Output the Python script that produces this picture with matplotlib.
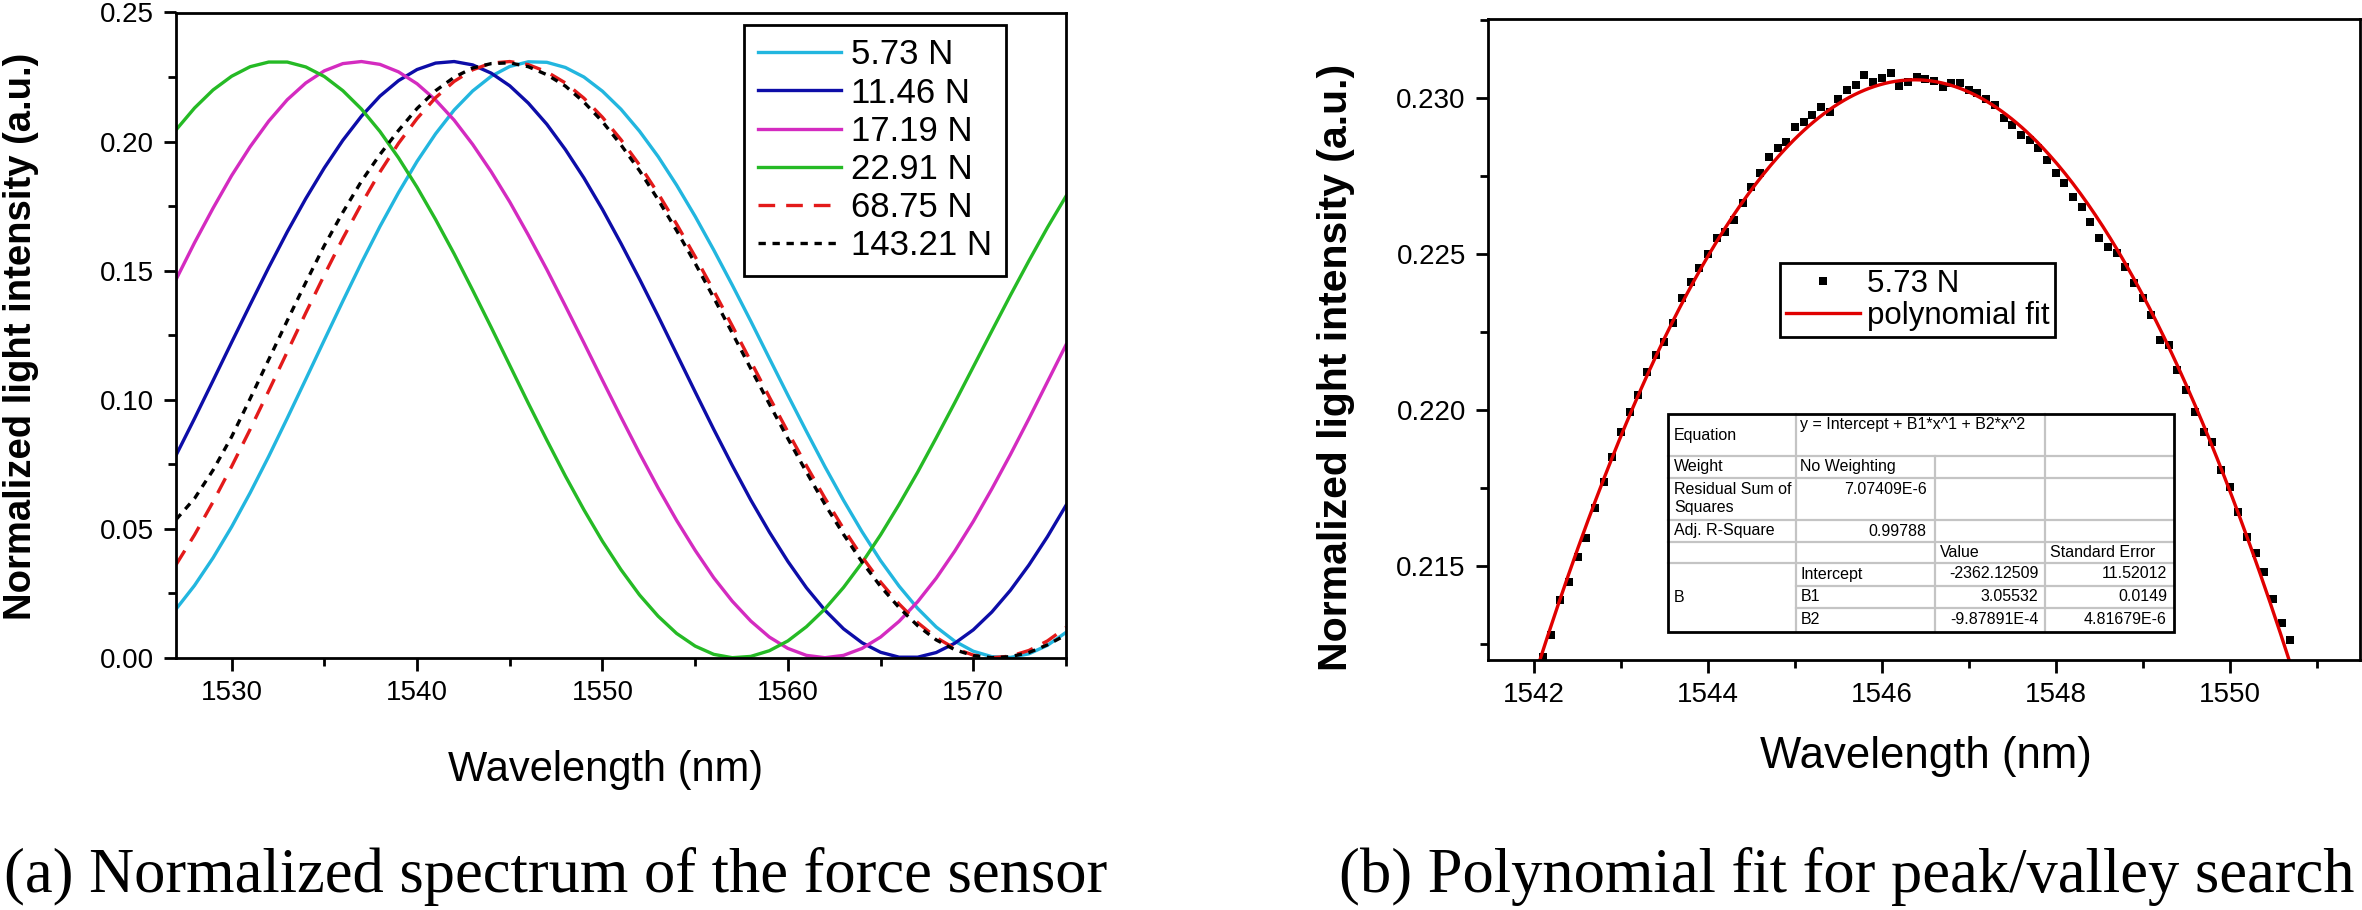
import numpy as np
import matplotlib
matplotlib.use("Agg")
import matplotlib.pyplot as plt
from matplotlib.ticker import MultipleLocator, FormatStrFormatter
from matplotlib.lines import Line2D
from matplotlib.patches import Rectangle

plt.rcParams['font.family'] = ['Liberation Sans', 'DejaVu Sans']

# ---- data, panel (a): normalized spectra, 1 nm steps ----
wavelength_a = np.arange(1527, 1576)  # nm

spec_5_73 = [0.0188, 0.0280, 0.0387, 0.0507, 0.0639, 0.0780, 0.0928, 0.1079, 0.1231, 0.1382,
             0.1530, 0.1671, 0.1802, 0.1923, 0.2030, 0.2122, 0.2196, 0.2253, 0.2291, 0.2309,
             0.2307, 0.2287, 0.2250, 0.2195, 0.2125, 0.2040, 0.1942, 0.1831, 0.1710, 0.1580,
             0.1444, 0.1304, 0.1160, 0.1017, 0.0877, 0.0740, 0.0610, 0.0488, 0.0376, 0.0277,
             0.0191, 0.0119, 0.0064, 0.0025, 0.0004, 0.0001, 0.0015, 0.0048, 0.0098]
spec_11_46 = [0.0784, 0.0927, 0.1074, 0.1222, 0.1368, 0.1512, 0.1650, 0.1779, 0.1898, 0.2005,
              0.2098, 0.2176, 0.2236, 0.2279, 0.2304, 0.2310, 0.2297, 0.2265, 0.2216, 0.2149,
              0.2067, 0.1969, 0.1859, 0.1737, 0.1605, 0.1467, 0.1324, 0.1177, 0.1030, 0.0885,
              0.0745, 0.0611, 0.0487, 0.0373, 0.0271, 0.0184, 0.0112, 0.0058, 0.0021, 0.0002,
              0.0002, 0.0020, 0.0056, 0.0108, 0.0177, 0.0261, 0.0359, 0.0469, 0.0590]
spec_17_19 = [0.1465, 0.1608, 0.1742, 0.1868, 0.1980, 0.2079, 0.2162, 0.2227, 0.2274, 0.2302,
              0.2310, 0.2299, 0.2270, 0.2224, 0.2161, 0.2083, 0.1989, 0.1883, 0.1766, 0.1638,
              0.1504, 0.1363, 0.1220, 0.1075, 0.0932, 0.0792, 0.0658, 0.0532, 0.0416, 0.0310,
              0.0219, 0.0142, 0.0080, 0.0036, 0.0009, 0.0000, 0.0009, 0.0036, 0.0080, 0.0141,
              0.0217, 0.0308, 0.0413, 0.0528, 0.0654, 0.0787, 0.0926, 0.1069, 0.1212]
spec_22_91 = [0.2045, 0.2130, 0.2200, 0.2253, 0.2290, 0.2308, 0.2308, 0.2289, 0.2252, 0.2197,
              0.2126, 0.2039, 0.1937, 0.1823, 0.1698, 0.1565, 0.1424, 0.1280, 0.1133, 0.0986,
              0.0843, 0.0704, 0.0573, 0.0451, 0.0341, 0.0243, 0.0161, 0.0094, 0.0045, 0.0013,
              0.0000, 0.0005, 0.0027, 0.0065, 0.0120, 0.0189, 0.0272, 0.0368, 0.0476, 0.0594,
              0.0719, 0.0852, 0.0988, 0.1127, 0.1266, 0.1404, 0.1538, 0.1667, 0.1788]
spec_68_75 = [0.0360, 0.0476, 0.0604, 0.0741, 0.0885, 0.1034, 0.1185, 0.1336, 0.1483, 0.1625,
              0.1758, 0.1882, 0.1993, 0.2089, 0.2170, 0.2233, 0.2278, 0.2304, 0.2310, 0.2298,
              0.2270, 0.2227, 0.2168, 0.2094, 0.2007, 0.1909, 0.1799, 0.1680, 0.1554, 0.1422,
              0.1286, 0.1148, 0.1010, 0.0875, 0.0744, 0.0618, 0.0500, 0.0391, 0.0293, 0.0208,
              0.0136, 0.0078, 0.0036, 0.0010, 0.0000, 0.0006, 0.0028, 0.0065, 0.0117]
spec_143_21 = [0.0535, 0.0617, 0.0727, 0.0856, 0.1004, 0.1155, 0.1306, 0.1454, 0.1597, 0.1726,
               0.1846, 0.1950, 0.2043, 0.2128, 0.2197, 0.2249, 0.2285, 0.2302, 0.2305, 0.2290,
               0.2259, 0.2215, 0.2153, 0.2077, 0.1987, 0.1887, 0.1775, 0.1655, 0.1528, 0.1395,
               0.1258, 0.1120, 0.0983, 0.0849, 0.0719, 0.0594, 0.0478, 0.0371, 0.0276, 0.0194,
               0.0124, 0.0069, 0.0031, 0.0008, 0.0000, 0.0004, 0.0020, 0.0050, 0.0088]

labels_a = ['5.73 N', '11.46 N', '17.19 N', '22.91 N', '68.75 N', '143.21 N']

# ---- data, panel (b): 5.73 N peak region, 0.1 nm steps ----
wavelength_b = np.round(np.arange(1542.1, 1550.75, 0.1), 1)
peak_5_73 = [0.21209, 0.21279, 0.21391, 0.21450, 0.21530, 0.21589, 0.21685, 0.21770, 0.21850, 0.21930,
             0.21995, 0.22048, 0.22123, 0.22176, 0.22219, 0.22278, 0.22358, 0.22411, 0.22454, 0.22500,
             0.22550, 0.22572, 0.22609, 0.22662, 0.22716, 0.22759, 0.22812, 0.22839, 0.22860, 0.22908,
             0.22924, 0.22945, 0.22972, 0.22956, 0.22996, 0.23026, 0.23042, 0.23074, 0.23052, 0.23063,
             0.23081, 0.23038, 0.23052, 0.23068, 0.23060, 0.23055, 0.23036, 0.23047, 0.23047, 0.23026,
             0.23015, 0.22996, 0.22978, 0.22935, 0.22913, 0.22881, 0.22865, 0.22839, 0.22801, 0.22761,
             0.22727, 0.22684, 0.22652, 0.22604, 0.22550, 0.22523, 0.22502, 0.22459, 0.22406, 0.22358,
             0.22304, 0.22224, 0.22208, 0.22128, 0.22064, 0.21995, 0.21930, 0.21898, 0.21808, 0.21754,
             0.21674, 0.21594, 0.21541, 0.21482, 0.21396, 0.21316, 0.21263]

fit_table = [
    ['Equation', 'y = Intercept + B1*x^1 + B2*x^2'],
    ['Weight', 'No Weighting'],
    ['Residual Sum of\nSquares', '7.07409E-6'],
    ['Adj. R-Square', '0.99788'],
]
param_names = ['Intercept', 'B1', 'B2']
param_values = ['-2362.12509', '3.05532', '-9.87891E-4']
param_errors = ['11.52012', '0.0149', '4.81679E-6']

W, H = 2362, 910
fig = plt.figure(figsize=(W / 100, H / 100), dpi=100)


def style_axes(ax):
    for s in ax.spines.values():
        s.set_linewidth(2.0)
    ax.tick_params(which='both', direction='out', top=False, right=False,
                   width=2.0, labelsize=20)
    ax.tick_params(which='major', length=9, pad=7)
    ax.tick_params(which='minor', length=5.5)


# ---------------- panel (a) ----------------
ax1 = fig.add_axes([176 / W, 1 - 657.7 / H, 890 / W, 645.2 / H])
series = [spec_5_73, spec_11_46, spec_17_19, spec_22_91, spec_68_75, spec_143_21]
colors = ['#22B6DF', '#0D0DA8', '#D42BC0', '#25BA25', '#E31A1A', '#000000']
styles = ['-', '-', '-', '-', (0, (5, 3.3)), (0, (2.2, 2.0))]
for y, c, ls, lab in zip(series, colors, styles, labels_a):
    ax1.plot(wavelength_a, y, color=c, lw=2.4, ls=ls, label=lab)

ax1.set_xlim(1527, 1575)
ax1.set_ylim(0, 0.25)
ax1.xaxis.set_major_locator(MultipleLocator(10))
ax1.xaxis.set_minor_locator(MultipleLocator(5))
ax1.yaxis.set_major_locator(MultipleLocator(0.05))
ax1.yaxis.set_minor_locator(MultipleLocator(0.025))
ax1.yaxis.set_major_formatter(FormatStrFormatter('%.2f'))
style_axes(ax1)
ax1.set_xlabel('Wavelength (nm)', fontsize=30, va='center')
ax1.xaxis.set_label_coords(0.483, -0.174)
ax1.set_ylabel('Normalized light intensity (a.u.)', fontsize=27.5,
               fontweight='bold', va='center')
ax1.yaxis.set_label_coords(-0.174, 0.4986)

leg1 = ax1.legend(loc='upper left', bbox_to_anchor=(0.638, 0.9814), borderaxespad=0,
                  fontsize=25, handlelength=2.4, handletextpad=0.3, borderpad=0.4,
                  labelspacing=0.15, fancybox=False, framealpha=1)
leg1.get_frame().set_edgecolor('black')
leg1.get_frame().set_linewidth(2.0)

# ---------------- panel (b) ----------------
ax2 = fig.add_axes([1488 / W, 1 - 660 / H, 872 / W, 641 / H])
ax2.plot(wavelength_b, peak_5_73, 's', color='black', ms=6, mew=0, label='5.73 N')
fit = np.polynomial.Polynomial.fit(wavelength_b, peak_5_73, 2)
xf = np.linspace(wavelength_b[0] - 0.06, wavelength_b[-1] + 0.06, 300)
ax2.plot(xf, fit(xf), color='#E00000', lw=2.4, label='polynomial fit')

ax2.set_xlim(1541.47, 1551.5)
ax2.set_ylim(0.21199, 0.23253)
ax2.xaxis.set_major_locator(MultipleLocator(2))
ax2.xaxis.set_minor_locator(MultipleLocator(1))
ax2.yaxis.set_major_locator(MultipleLocator(0.005))
ax2.yaxis.set_minor_locator(MultipleLocator(0.0025))
ax2.yaxis.set_major_formatter(FormatStrFormatter('%.3f'))
style_axes(ax2)
ax2.set_xlabel('Wavelength (nm)', fontsize=31.5, va='center')
ax2.xaxis.set_label_coords(0.502, -0.151)
ax2.set_ylabel('Normalized light intensity (a.u.)', fontsize=29.5,
               fontweight='bold', va='center')
ax2.yaxis.set_label_coords(-0.174, 0.457)

leg2 = ax2.legend(loc='upper left', bbox_to_anchor=(0.3349, 0.6193), borderaxespad=0,
                  fontsize=22.5, numpoints=1, handlelength=2.35, handletextpad=0.22,
                  borderpad=0.2, labelspacing=0.05, fancybox=False, framealpha=1)
leg2.get_frame().set_edgecolor('black')
leg2.get_frame().set_linewidth(2.0)

# ---------------- fit results table (figure pixel layout) ----------------
def fx(px):
    return px / W


def fy(py):
    return 1 - py / H


cols = [1668, 1795.8, 1934.6, 2045.3, 2174]
rows = [414.3, 456.3, 477.7, 520.1, 542.4, 563.4, 585.7, 608, 631.7]
grid_c = '#C4C4C4'

fig.add_artist(Rectangle((fx(cols[0]), fy(rows[-1])), fx(cols[-1]) - fx(cols[0]),
                         fy(rows[0]) - fy(rows[-1]), transform=fig.transFigure,
                         facecolor='white', edgecolor='none', zorder=4))


def hline(py, x0, x1):
    fig.add_artist(Line2D([fx(x0), fx(x1)], [fy(py), fy(py)], transform=fig.transFigure,
                          color=grid_c, lw=1.6, zorder=5))


def vline(px, y0, y1):
    fig.add_artist(Line2D([fx(px), fx(px)], [fy(y0), fy(y1)], transform=fig.transFigure,
                          color=grid_c, lw=1.6, zorder=5))


for r in rows[1:6]:
    hline(r, cols[0], cols[-1])
for r in rows[6:8]:
    hline(r, cols[1], cols[-1])
vline(cols[1], rows[0], rows[-1])
vline(cols[2], rows[1], rows[-1])
vline(cols[3], rows[0], rows[-1])
fig.add_artist(Rectangle((fx(cols[0]), fy(rows[-1])), fx(cols[-1]) - fx(cols[0]),
                         fy(rows[0]) - fy(rows[-1]), transform=fig.transFigure,
                         facecolor='none', edgecolor='black', lw=2.0, zorder=6))

tfs = 11.5


def cell(px, py, s, ha='left'):
    fig.text(fx(px), fy(py), s, ha=ha, va='center', fontsize=tfs, zorder=7,
             linespacing=1.25)


cell(cols[0] + 6, 435, fit_table[0][0])
cell(cols[1] + 4, 424, fit_table[0][1])
cell(cols[0] + 6, 467, fit_table[1][0])
cell(cols[1] + 4, 467, fit_table[1][1])
cell(cols[0] + 6, 498.5, fit_table[2][0])
cell(cols[2] - 8, 489.5, fit_table[2][1], ha='right')
cell(cols[0] + 6, 531, fit_table[3][0])
cell(cols[2] - 8, 531, fit_table[3][1], ha='right')
cell(cols[2] + 5, 552.5, 'Value')
cell(cols[3] + 5, 552.5, 'Standard Error')
cell(cols[0] + 6, 597.5, 'B')
for i, py in enumerate([574, 596.5, 619]):
    cell(cols[1] + 5, py, param_names[i])
    cell(cols[3] - 7, py, param_values[i], ha='right')
    cell(cols[4] - 7, py, param_errors[i], ha='right')

# ---------------- captions ----------------
fig.text(556 / W, 1 - 892 / H, '(a) Normalized spectrum of the force sensor',
         family='Liberation Serif', fontsize=45, ha='center', va='baseline')
fig.text(1847 / W, 1 - 892 / H, '(b) Polynomial fit for peak/valley search',
         family='Liberation Serif', fontsize=45, ha='center', va='baseline')

fig.savefig('out.png', dpi=100, facecolor='white')
